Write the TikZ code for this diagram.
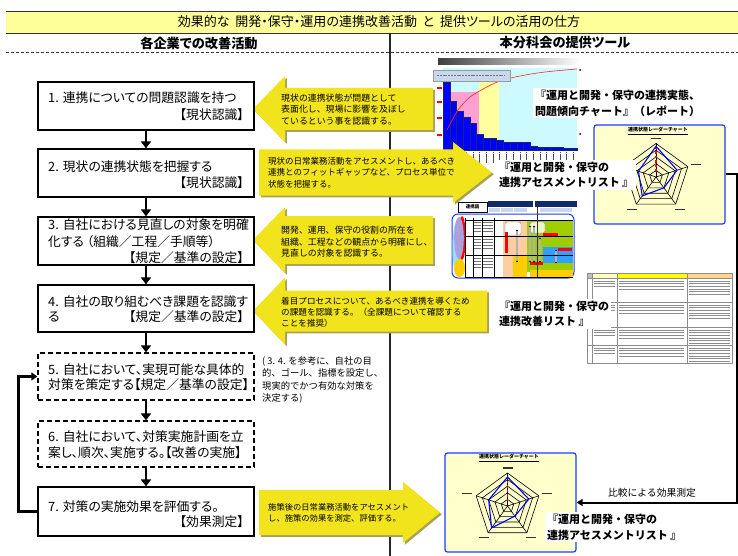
\documentclass[tikz,border=0pt]{standalone}
\usepackage{fontspec}
\setmainfont{Noto Sans CJK JP}
\newfontfamily\pfont{Noto Sans CJK JP}[RawFeature=+palt]
\usetikzlibrary{arrows.meta}
\definecolor{tband}{RGB}{255,255,153}
\definecolor{yarr}{RGB}{242,228,28}
\definecolor{yshadow}{RGB}{170,160,90}
\definecolor{radarbg}{RGB}{255,255,204}
\definecolor{chartbg}{RGB}{204,250,255}
\definecolor{chartpink}{RGB}{255,160,210}
\definecolor{chartyel}{RGB}{255,255,160}
\definecolor{navyc}{RGB}{20,40,110}
\definecolor{cellblue}{RGB}{200,215,235}
\definecolor{procgreen}{RGB}{160,205,0}
\definecolor{procblue}{RGB}{50,160,255}
\definecolor{procorange}{RGB}{255,205,160}
\definecolor{procyellow}{RGB}{255,205,0}
\definecolor{lavender}{RGB}{170,160,220}
\definecolor{tblyel}{RGB}{255,255,0}
\definecolor{tblorange}{RGB}{255,215,140}
\definecolor{tblpale}{RGB}{255,255,190}
\definecolor{frameblue}{RGB}{30,60,255}
\newcommand\setfs[2]{\fontsize{#1}{#2}\selectfont}
\newcommand\yshape[6]{(#1,#2) -- (#3,#2-#4) -- (#3,#2-#5) -- (#6,#2-#5) -- (#6,#2+#5) -- (#3,#2+#5) -- (#3,#2+#4) -- cycle}
\newcommand\ycallout[6]{\fill[yshadow,shift={(1.8,1.8)}] \yshape{#1}{#2}{#3}{#4}{#5}{#6}; \fill[yarr] \yshape{#1}{#2}{#3}{#4}{#5}{#6};}
\newcommand\radarplot[8]{%
\begin{scope}[shift={(#1,#2)}]
\foreach \l in {0.2,0.4,0.6,0.8,1.0}
  \draw[line width=0.6] (-90:{\l*#3}) -- (-18:{\l*#3}) -- (54:{\l*#3}) -- (126:{\l*#3}) -- (198:{\l*#3}) -- cycle;
\foreach \a in {-90,-18,54,126,198} \draw[line width=0.6] (0,0) -- (\a:#3);
\draw[red, line width=1.6, dash pattern=on 2.5pt off 2pt] (-90:{0.15*#3}) -- (-90:{0.92*#3});
\draw[blue, line width=1.1] (-90:{#4*#3}) -- (-18:{#5*#3}) -- (54:{#6*#3}) -- (126:{#7*#3}) -- (198:{#8*#3}) -- cycle;
\foreach \a/\dx/\dy in {-90/0/-5,-18/8/-2,54/4/5,126/-4/5,198/-9/-2}
  \draw[black!80, line width=1.2] ([shift={(\dx-5,\dy)}]\a:#3) -- ([shift={(\dx+5,\dy)}]\a:#3);
\end{scope}}
\tikzset{
 stepbox/.style={draw, line width=1.3pt, minimum width=216pt, minimum height=#1, inner sep=0pt},
 dbox/.style={dash pattern=on 5pt off 3pt},
 btxt/.style={inner sep=0pt, font=\pfont\setfs{12.8}{16}},
 ytxt/.style={anchor=north west, inner sep=0pt, align=left, font=\setfs{8.8}{11.4}},
 lbl/.style={fill=white, inner sep=2pt, anchor=north west, align=left, font=\setfs{11}{15.5}\bfseries},
 flowarr/.style={line width=2.6pt, -{Triangle[length=7pt,width=10pt]}},
 looparr/.style={line width=2.4pt, -{Triangle[length=6pt,width=8pt]}},
 cmparr/.style={line width=2pt, -{Triangle[length=6pt,width=7pt]}},
 radarbox/.style={draw=frameblue, line width=1.2pt, fill=radarbg, rounded corners=2.5pt, inner sep=0pt},
}
\begin{document}
\begin{tikzpicture}[x=1pt,y=-1pt]
\useasboundingbox (0,0) rectangle (738,556);
% title band
\fill[tband] (6,11) rectangle (738,33);
\draw[black!80, line width=0.8] (6,11) -- (738,11);
\draw[black!80, line width=0.8] (6,33) -- (738,33);
\node[font=\pfont\setfs{13}{15}] (title) at (379,22) {効果的な\ \ 開発・保守・運用の連携改善活動\ \ と\ \ 提供ツールの活用の仕方};
\node[font=\pfont\setfs{13.2}{15}\bfseries] (hleft) at (199,43) {各企業での改善活動};
\node[font=\pfont\setfs{13.2}{15}\bfseries] (hright) at (565,43) {本分科会の提供ツール};
\draw[black!80, line width=0.8, dash pattern=on 3pt off 2pt] (6,52) -- (738,52);
\draw[black!85, line width=1.2] (390,33) -- (390,556);

% ---------- Pareto chart thumbnail ----------
\shade[left color=black!75, right color=white] (438,59) rectangle (580,65);
\fill[chartbg] (443,68) rectangle (577,150);
\fill[chartyel] (479,72) rectangle (499,150);
\fill[chartpink] (450,92) rectangle (479,150);
\foreach \i/\t in {0/82,1/101,2/111,3/117,4/123,5/134,6/138,7/138,8/140,9/142,10/142,11/142,12/142,13/146,14/147,15/147,16/147,17/147,18/148,19/148}
  \filldraw[fill=blue, draw=navyc, line width=0.4] ({443+\i*6.7},\t) rectangle ({443+\i*6.7+6.7},150);
\foreach \i in {0,...,19}
  \draw[black!70, line width=0.9, dash pattern=on 1.5pt off 0.6pt] ({446.3+\i*6.7},152) -- ({446.3+\i*6.7},163);
\draw[red!85, line width=0.6] plot[smooth] coordinates {(447,130) (458,110) (470,97) (485,88) (500,81) (520,76) (545,72) (577,69)};
\foreach \y in {88,102,118,135} \draw[red, line width=1.6] (437,\y) -- (442,\y);
\fill[black] (580,70) circle (1); \fill[black] (580,134) circle (1);
\node[draw=black!40, fill=cellblue, minimum width=77pt, minimum height=11pt, inner sep=0pt] (pst) at (471.5,75.5) {};
\draw[black!55, line width=0.8, dash pattern=on 2pt off 0.8pt] (437,75.5) -- (505,75.5);

% ---------- process diagram thumbnail ----------
\fill[navyc] (488,201) rectangle (533,207);
\fill[navyc] (535,201) rectangle (577,207);
\foreach \x/\w in {489/11,501/12,514/13,540/32} \fill[cellblue] (\x,207.5) rectangle (\x+\w,212);
\node[draw, line width=0.8pt, fill=white, minimum width=29pt, minimum height=10pt, inner sep=0pt, font=\setfs{4.5}{5}\bfseries] (pz) at (472.5,207) {連携図};
\draw[frameblue, line width=1pt, fill=white, rounded corners=6pt] (452,214) rectangle (574,278);
\fill[cyan!40] (457.5,248) ellipse (5 and 28);
\fill[red] (462,238) ellipse (3.8 and 22);
\fill[lavender] (459,238) ellipse (4.8 and 21);
\fill[procyellow] (459.5,268) ellipse (5.5 and 9);
\fill[procorange] (503,220) rectangle (527,277);
\draw[black!50, fill=white, rounded corners=2pt] (505,222) rectangle (521,235);
\fill[procyellow] (513,255) rectangle (527,277);
\fill[procgreen] (527,220) rectangle (573,272);
\draw[black!50, fill=white!80!procgreen, rounded corners=2pt] (530,222) rectangle (545,233);
\fill[procblue] (543,247) rectangle (573,263);
\fill[procyellow] (530,270) rectangle (573,277);
\fill[red] (543,233) rectangle (558,237);
\fill[red] (558,248) rectangle (572,251);
\fill[red] (530,262) rectangle (543,265);
\fill[red] (505,232) rectangle (508,253);
\foreach \x/\a/\b in {517/230/262,530/226/262,534/226/262,540/238/262,556/250/263} {
  \draw[black, line width=2.4pt] (\x,\a) -- (\x,\b);
  \draw[black!30, line width=1.2pt] (\x,\a+1) -- (\x,\b-1);}
\foreach \x in {465,473,482,494} \draw[line width=0.7pt] (\x,218) -- (\x,277);
\foreach \y in {220,236,255,277} \draw[line width=0.7pt] (465,\y) -- (573,\y);
\draw[black!80, line width=0.8pt] (537,201) -- (537,277);
\foreach \x/\w in {474/7,483/10} \foreach \y in {222,225,228,231,239,242,245,248,258,261,264,267}
  \draw[black!55, line width=0.6pt] (\x,\y) -- (\x+\w,\y);

% ---------- table thumbnail ----------
\fill[black!25] (587,273) rectangle (592,278);
\fill[tblpale] (592,273) rectangle (617,278);
\fill[tblyel] (617,273) rectangle (687,278);
\fill[tblorange] (687,273) rectangle (732,278);
\draw[black!45, line width=0.5pt] (587,273) rectangle (732,363);
\foreach \y in {278,302,327,345} \draw[black!45, line width=0.5pt] (587,\y) -- (732,\y);
\foreach \x in {592,617,687} \draw[black!45, line width=0.5pt] (\x,273) -- (\x,363);
\foreach \ry in {281,305,330,348} {
  \foreach \k in {0,1,2} \draw[black!45, line width=0.6pt] (594,\ry+\k*2.6) -- (615,\ry+\k*2.6);
  \foreach \k in {0,1,2,3} \draw[black!45, line width=0.6pt] (619,\ry+\k*2.6) -- (684,\ry+\k*2.6);
  \foreach \k in {0,...,5} \draw[black!45, line width=0.6pt] (689,\ry+\k*2.6) -- (730,\ry+\k*2.6);}

% ---------- radar charts ----------
\node[radarbox, minimum width=131pt, minimum height=99pt] (r1) at (659.5,174.5) {};
\node[font=\setfs{5}{6}\bfseries] (r1t) at (658,131) {\underline{連携状態レーダーチャート}};
\radarplot{656}{177}{33.5}{0.92}{0.66}{0.4}{0.7}{0.55}
\node[radarbox, minimum width=131pt, minimum height=99pt] (r2) at (510.5,502.5) {};
\node[font=\setfs{5}{6}\bfseries] (r2t) at (509,458) {\underline{連携状態レーダーチャート}};
\radarplot{507.5}{506}{33}{0.88}{0.68}{0.38}{0.82}{0.6}

% ---------- yellow callouts ----------
\ycallout{253}{109}{285}{33}{21}{433}
\ycallout{492}{172.5}{453}{30.5}{23}{259}
\ycallout{253}{240}{285}{33}{24}{433}
\ycallout{253}{311}{285}{33.5}{20.5}{487}
\ycallout{440}{512.5}{403}{30.5}{22.5}{259}
\node[ytxt, font=\setfs{8.9}{11.4}] (t1) at (281,93.5) {現状の連携状態が問題として\\表面化し、現場に影響を及ぼし\\ているという事を認識する。};
\node[ytxt, font=\setfs{8.5}{11.4}] (t2) at (268,157) {現状の日常業務活動をアセスメントし、あるべき\\連携とのフィットギャップなど、プロセス単位で\\状態を把握する。};
\node[ytxt, font=\setfs{8.9}{11.4}] (t3) at (281,226) {開発、運用、保守の役割の所在を\\組織、工程などの観点から明確にし、\\見直しの対象を認識する。};
\node[ytxt, font=\setfs{8.6}{11.2}] (t4) at (281,297) {着目プロセスについて、あるべき連携を導くため\\の課題を認識する。（全課題について確認する\\ことを推奨）};
\node[ytxt, font=\setfs{8.3}{11.2}] (t7) at (268,503.5) {施策後の日常業務活動をアセスメント\\し、施策の効果を測定、評価する。};
\node[ytxt, font=\setfs{9.3}{12.5}] (t5) at (262,356) {(\ 3. 4. を参考に、自社の目\\的、ゴール、指標を設定し、\\現実的でかつ有効な対策を\\決定する)};

% ---------- labels ----------
\node[lbl] (l1) at (533,88) {『運用と開発・保守の連携実態、\\問題傾向チャート』（レポート）};
\node[lbl] (l2) at (497,159.5) {『運用と開発・保守の\\連携アセスメントリスト 』};
\node[lbl] (l3) at (497,298.5) {『運用と開発・保守の\\連携改善リスト 』};
\node[lbl] (l4) at (545,512) {『運用と開発・保守の\\連携アセスメントリスト 』};

% ---------- left step boxes ----------
\node[stepbox=48pt] (b1) at (146,106) {};
\node[stepbox=48pt] (b2) at (146,173) {};
\node[stepbox=48pt] (b3) at (146,241) {};
\node[stepbox=47pt] (b4) at (146,308.5) {};
\node[stepbox=47pt, dbox] (b5) at (146,376.5) {};
\node[stepbox=46pt, dbox] (b6) at (146,444) {};
\node[stepbox=49pt] (b7) at (146,511.5) {};

\node[btxt, anchor=west] (s1a) at (48,98) {1.\hspace{4pt}連携についての問題認識を持つ};
\node[btxt, anchor=east] (s1b) at (244,115) {【現状認識】};
\node[btxt, anchor=west] (s2a) at (48,167) {2.\hspace{4pt}現状の連携状態を把握する};
\node[btxt, anchor=east] (s2b) at (244,183) {【現状認識】};
\node[btxt, anchor=west] (s3a) at (48,225) {3.\hspace{4pt}自社における見直しの対象を明確};
\node[btxt, anchor=west] (s3b) at (48,242) {化する （組織／工程／手順等）};
\node[btxt, anchor=east] (s3c) at (244,258) {【規定／基準の設定】};
\node[btxt, anchor=west] (s4a) at (48,302) {4.\hspace{4pt}自社の取り組むべき課題を認識す};
\node[btxt, anchor=west] (s4b) at (48,317) {る};
\node[btxt, anchor=east] (s4c) at (244,317) {【規定／基準の設定】};
\node[btxt, anchor=west] (s5a) at (48,370) {5.\hspace{4pt}自社において、実現可能な具体的};
\node[btxt, anchor=west] (s5b) at (48,385) {対策を策定する【規定／基準の設定】};
\node[btxt, anchor=west] (s6a) at (48,437) {6.\hspace{4pt}自社において、対策実施計画を立};
\node[btxt, anchor=west] (s6b) at (48,453) {案し、順次、実施する。【改善の実施】};
\node[btxt, anchor=west] (s7a) at (48,507) {7.\hspace{4pt}対策の実施効果を評価する。};
\node[btxt, anchor=east] (s7b) at (244,522) {【効果測定】};

\draw[flowarr] (b1.south) -- (b2.north);
\draw[flowarr] (b2.south) -- (b3.north);
\draw[flowarr] (b3.south) -- (b4.north);
\draw[flowarr] (b4.south) -- (b5.north);
\draw[flowarr] (b5.south) -- (b6.north);
\draw[flowarr] (b6.south) -- (b7.north);
\draw[looparr] (b7.west) -- ++(-19,0) |- (b5.west);

% ---------- comparison connector ----------
\draw[cmparr] (r1.east) -- ++(11,0) |- (r2.east);
\node[font=\setfs{9.8}{11}] (cmpl) at (652,493) {比較による効果測定};
\end{tikzpicture}
\end{document}
